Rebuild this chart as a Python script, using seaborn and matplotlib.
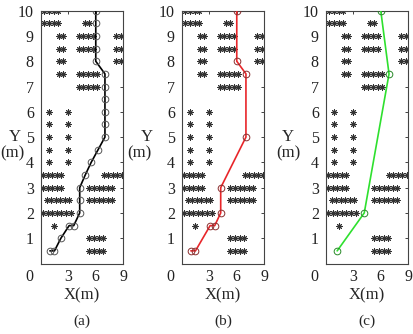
import numpy as np
import pandas as pd
import matplotlib
matplotlib.use("Agg")
import matplotlib.pyplot as plt
import matplotlib.transforms as mtransforms
import seaborn as sns

# obstacle map (same in all three panels): row y -> x positions of the asterisks
obstacle_rows = {
    10.0: [0.4, 0.9, 1.4, 1.9],
    9.5: [0.4, 0.9, 1.4, 1.9, 4.8, 5.25],
    9.0: [1.95, 2.45, 4.15, 4.65, 5.15, 5.65, 8.25, 8.75],
    8.5: [1.95, 2.45, 4.15, 4.65, 5.15, 5.65, 8.25, 8.75],
    8.0: [1.95, 2.45, 8.25, 8.75],
    7.5: [1.95, 2.45, 4.15, 4.65, 5.15, 5.65, 6.15],
    7.0: [4.15, 4.65, 5.15, 5.65, 6.15],
    6.0: [0.95, 3.0],
    5.5: [0.95, 3.0],
    5.0: [0.95, 3.0],
    4.5: [0.95, 3.0],
    4.0: [0.95, 3.0],
    3.5: [0.25, 0.75, 1.25, 1.75, 2.25, 6.85, 7.35, 7.85, 8.35, 8.85],
    3.0: [0.25, 0.75, 1.25, 1.75, 2.25, 5.3, 5.8, 6.3, 6.8, 7.3, 7.8],
    2.5: [0.65, 1.15, 1.65, 2.15, 2.65, 3.1, 5.3, 5.8, 6.3, 6.8, 7.3, 7.8],
    2.0: [0.25, 0.75, 1.25, 1.75, 2.25, 2.75, 3.25],
    1.5: [1.4],
    1.0: [5.3, 5.8, 6.3, 6.8],
    0.5: [5.3, 5.8, 6.3, 6.8],
}

# planned paths
path_a_x = [1.0, 1.5, 2.2, 3.1, 3.6, 4.25, 4.25, 4.25, 4.85, 5.5, 6.25, 7.0,
            7.0, 7.0, 7.0, 7.0, 7.0, 6.0, 6.0, 6.0, 6.0, 6.0]
path_a_y = [0.5, 0.5, 1.0, 1.5, 1.5, 2.0, 2.5, 3.0, 3.5, 4.0, 4.5, 5.0,
            5.5, 6.0, 6.5, 7.0, 7.5, 8.0, 8.5, 9.0, 9.5, 10.0]
path_b_x = [1.0, 1.5, 3.1, 3.6, 4.25, 4.25, 7.0, 7.0, 6.0, 6.0]
path_b_y = [0.5, 0.5, 1.5, 1.5, 2.0, 3.0, 5.0, 7.5, 8.0, 10.0]
path_c_x = [1.25, 4.2, 6.9, 6.0]
path_c_y = [0.5, 2.0, 7.5, 10.0]

paths = [(path_a_x, path_a_y), (path_b_x, path_b_y), (path_c_x, path_c_y)]
panel_labels = ["(a)", "(b)", "(c)"]
line_colors = ["black", "#e8262a", "#2ee02e"]
edge_colors = ["#555555", "#8a3030", "#2a8a2a"]

ox, oy = [], []
for yy, xs in obstacle_rows.items():
    ox += xs
    oy += [yy] * len(xs)
obstacles = pd.DataFrame({"x": ox, "y": oy})

sns.set_style("white")
plt.rcParams["font.family"] = ["Liberation Serif", "DejaVu Serif"]

W, H = 414, 334
fig = plt.figure(figsize=(W / 100, H / 100), dpi=100)

lefts = [40.7, 181.7, 325.7]
ax_w, ax_top, ax_bot = 82.6, 10.7, 263.5
ylab_pos = [(15, 12), (147, 139), (288, 288)]

for i, left in enumerate(lefts):
    ax = fig.add_axes([left / W, 1 - ax_bot / H, ax_w / W, (ax_bot - ax_top) / H])
    sns.scatterplot(data=obstacles, x="x", y="y", marker=(8, 2, 0), s=17,
                    color="#333333", linewidth=0.7, ax=ax, zorder=2)
    px, py = paths[i]
    sns.lineplot(x=px, y=py, sort=False, estimator=None, color=line_colors[i],
                 linewidth=1.2, marker="o", markersize=4.8,
                 markerfacecolor="none", markeredgecolor=edge_colors[i],
                 markeredgewidth=0.7, ax=ax, zorder=3)
    ax.set_xlim(0, 9)
    ax.set_ylim(0, 10)
    ax.set_xticks([0, 3, 6, 9])
    ax.set_yticks(range(0, 11))
    ax.set_yticklabels([""] + [str(v) for v in range(1, 11)])
    ax.tick_params(direction="in", length=2, width=0.6, top=True, right=True,
                   labelsize=11.5, pad=4, colors="#222222")
    ax.tick_params(axis="y", pad=5)
    for sp in ax.spines.values():
        sp.set_color("#444444")
        sp.set_linewidth(0.8)
    ax.set_xlabel("")
    ax.set_ylabel("")
    # the "0" label sits a little left of the corner
    lab0 = ax.get_xticklabels()[0]
    lab0.set_transform(lab0.get_transform() +
                       mtransforms.ScaledTranslation(-0.11, 0, fig.dpi_scale_trans))

    cx = left + ax_w / 2
    fig.text(cx / W, 1 - 295 / H, "X(m)", ha="center", va="center", fontsize=12)
    fig.text(cx / W, 1 - 321 / H, panel_labels[i], ha="center", va="center", fontsize=11)
    fig.text(ylab_pos[i][0] / W, 1 - 137 / H, "Y", ha="center", va="center", fontsize=12)
    fig.text(ylab_pos[i][1] / W, 1 - 153 / H, "(m)", ha="center", va="center", fontsize=12)

fig.savefig("out.png", dpi=100)
